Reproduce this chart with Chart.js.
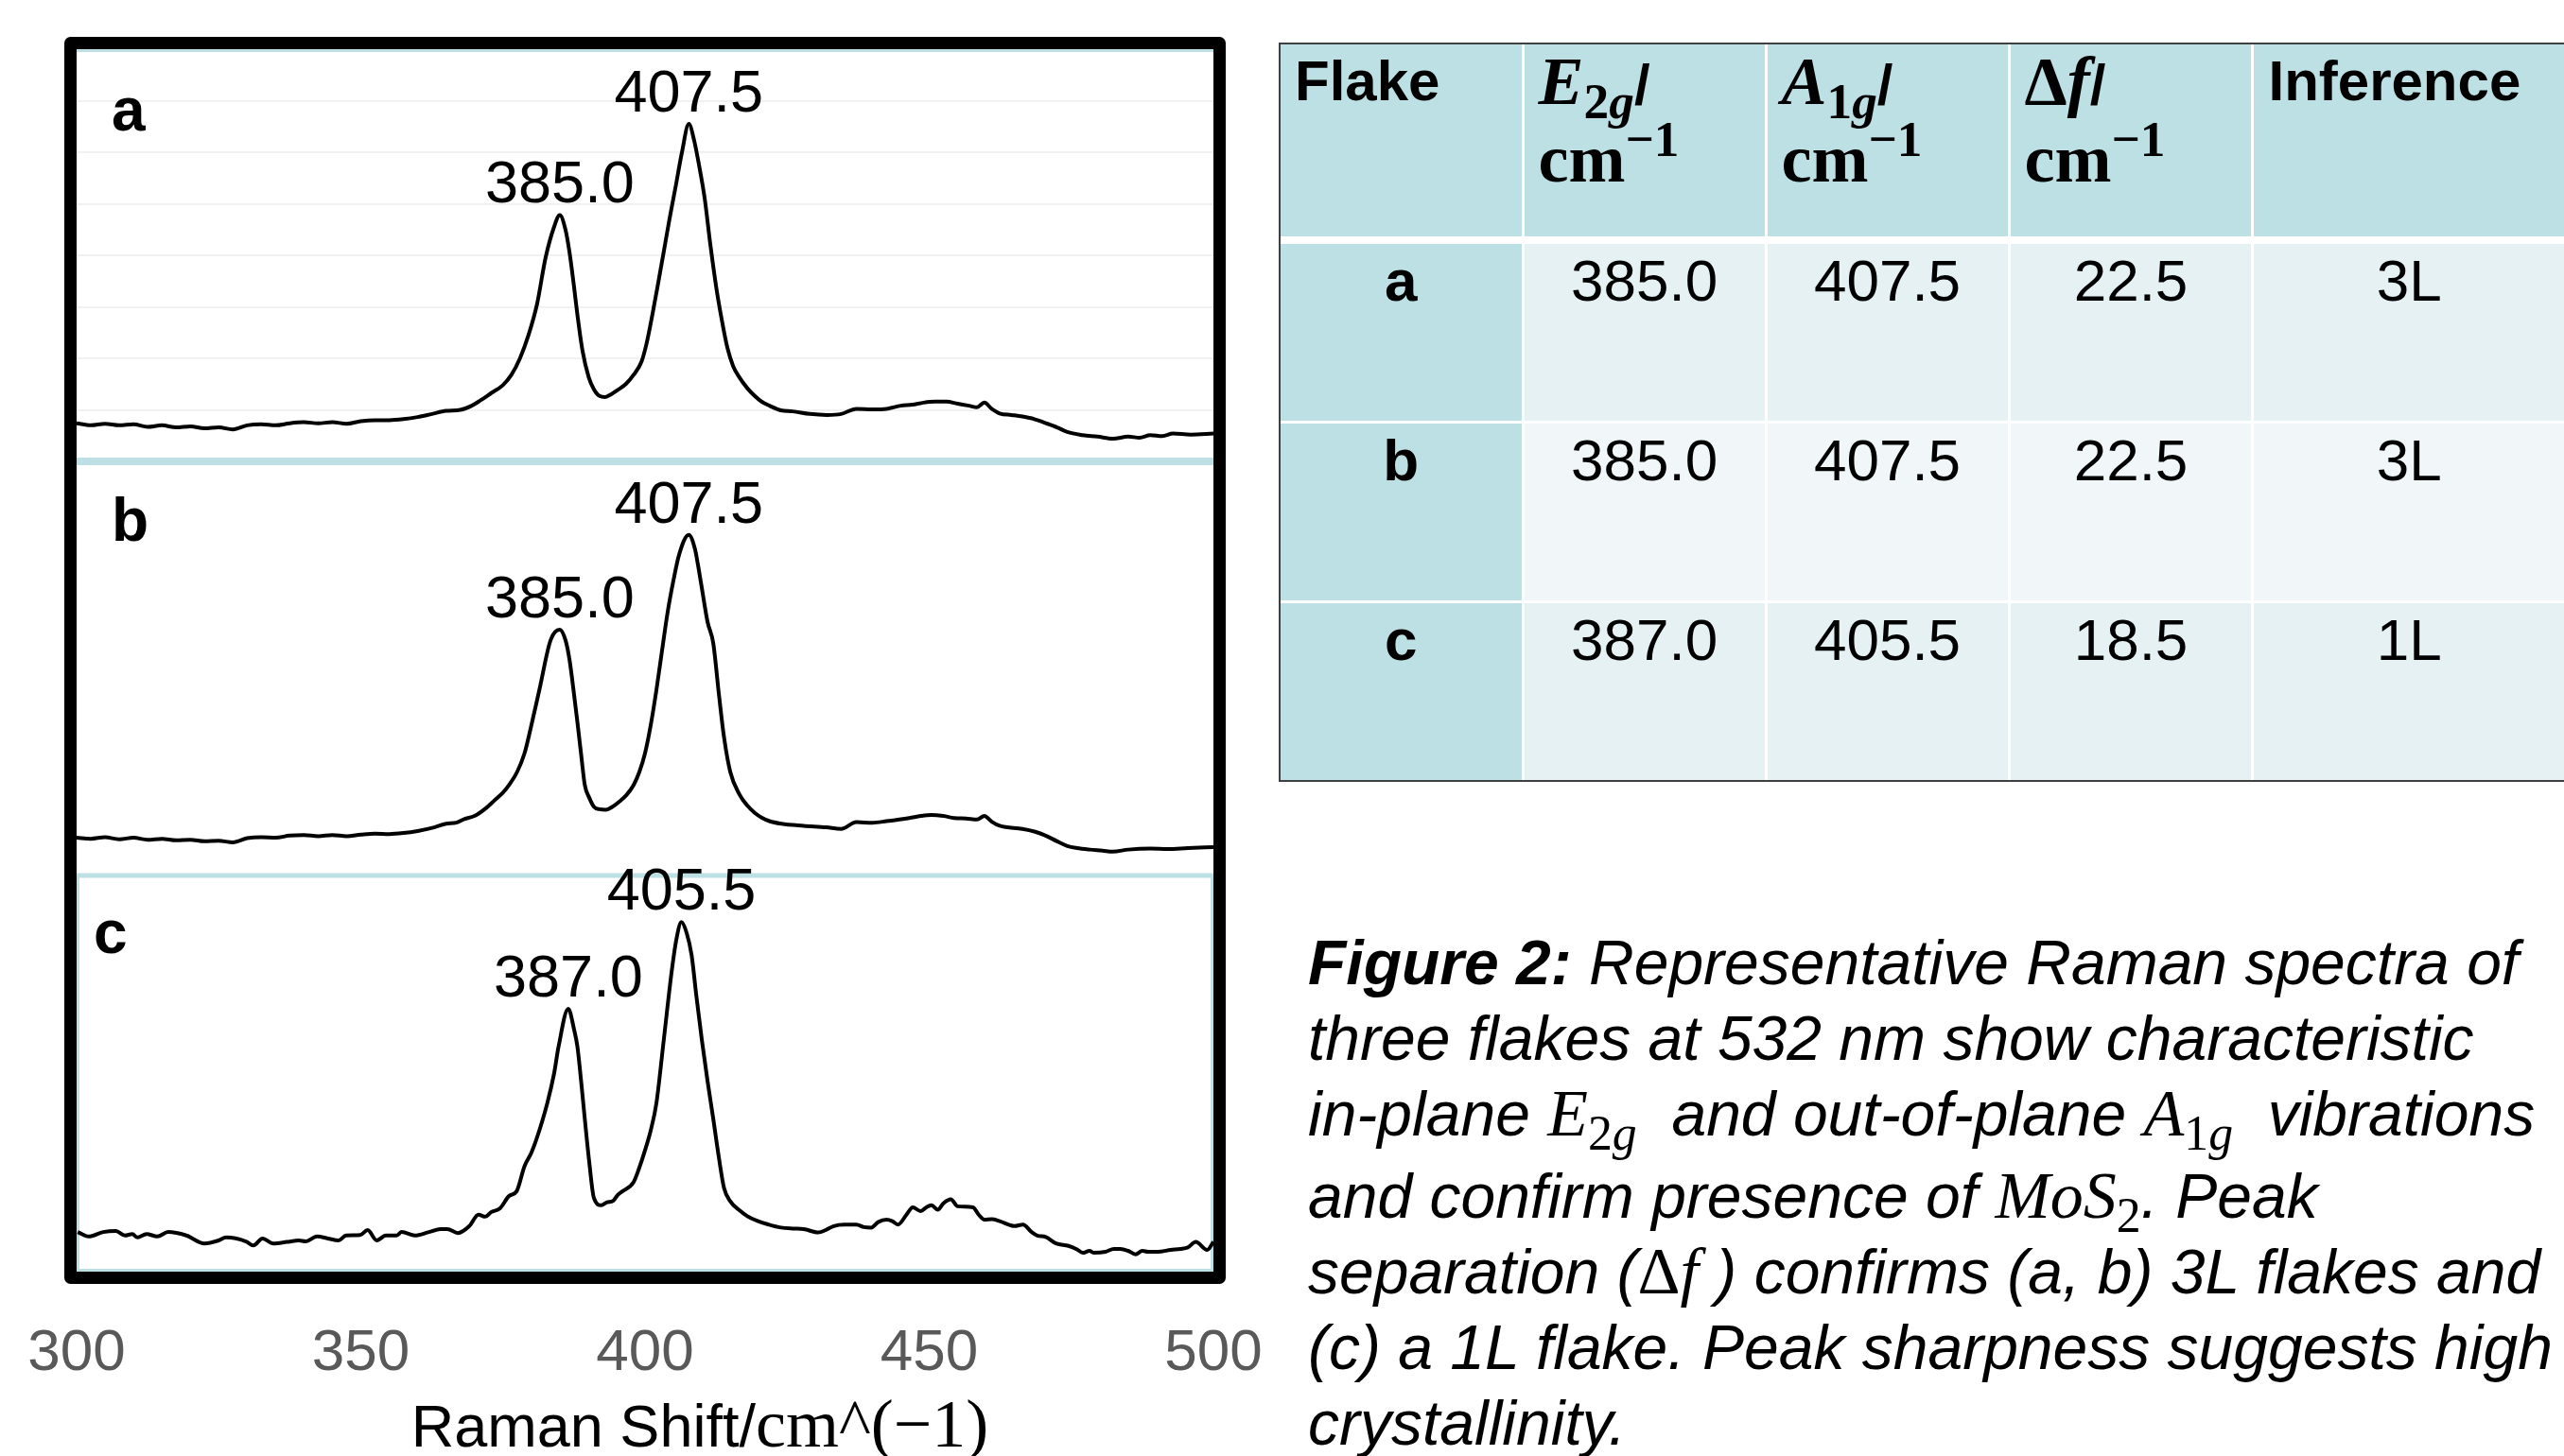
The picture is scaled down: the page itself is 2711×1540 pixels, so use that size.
<!DOCTYPE html>
<html>
<head>
<meta charset="utf-8">
<script src="https://cdn.jsdelivr.net/npm/chart.js@4.4.1/dist/chart.umd.min.js"></script>
<style>
  html, body { margin: 0; padding: 0; background: #fff; width: 2711px; height: 1540px; overflow: hidden; }
  #grafico { position: absolute; left: 0; top: 0; }
  #tabela-box { position: absolute; left: 1352px; top: 45px; border: 2px solid #404040; border-right: none; }
  table { border-collapse: collapse; border-style: hidden; table-layout: fixed; font-family: 'Liberation Sans', Arial, sans-serif; font-size: 62px; color: #000; }
  td { border: 3px solid #fff; padding: 0; vertical-align: top; line-height: 78px; }
  tr.cab td { background: #bde0e4; height: 203px; padding-left: 15px; font-size: 60px; font-weight: bold; border-bottom: 8px solid #fff; }
  td.flake { background: #bde0e4; font-weight: bold; text-align: center; }
  tr.r1 td, tr.r3 td { background: #e6f1f3; }
  tr.r2 td { background: #f1f7f8; }
  tr.r1 td.flake, tr.r2 td.flake, tr.r3 td.flake { background: #bde0e4; }
  tr.corpo td { height: 187px; text-align: center; padding-top: 0; }
  .m { font-family: 'Liberation Serif', serif; font-weight: bold; font-size: 72px; }
  .m i { font-style: italic; }
  sub, sup { font-size: 0.74em; line-height: 0; }
  sub { vertical-align: -0.28em; }
  sup { vertical-align: 0.5em; }
  #legenda { position: absolute; left: 1383px; top: 978px; font-family: 'Liberation Sans', Arial, sans-serif; font-style: italic; font-size: 66px; line-height: 80px; white-space: nowrap; color: #000; }
  #legenda .alto { margin-bottom: 7px; }
  #legenda .mt { font-family: 'Liberation Serif', serif; font-style: normal; font-size: 70px; }
  #legenda .mt i { font-style: italic; }
</style>
</head>
<body>
<canvas id="grafico" width="1340" height="1540"></canvas>

<div id="tabela-box">
<table>
  <colgroup><col style="width:258px"><col style="width:259px"><col style="width:259px"><col style="width:260px"><col style="width:330px"></colgroup>
  <tr class="cab">
    <td>Flake</td>
    <td><span class="m"><i>E</i><sub>2<i>g</i></sub></span>/<br><span class="m">cm<sup>−1</sup></span></td>
    <td><span class="m"><i>A</i><sub>1<i>g</i></sub></span>/<br><span class="m">cm<sup>−1</sup></span></td>
    <td><span class="m">Δ<i>f</i></span>/<br><span class="m">cm<sup>−1</sup></span></td>
    <td>Inference</td>
  </tr>
  <tr class="corpo r1"><td class="flake">a</td><td>385.0</td><td>407.5</td><td>22.5</td><td>3L</td></tr>
  <tr class="corpo r2"><td class="flake">b</td><td>385.0</td><td>407.5</td><td>22.5</td><td>3L</td></tr>
  <tr class="corpo r3"><td class="flake">c</td><td>387.0</td><td>405.5</td><td>18.5</td><td>1L</td></tr>
</table>
</div>

<div id="legenda">
  <div><b>Figure 2:</b> Representative Raman spectra of</div>
  <div>three flakes at 532 nm show characteristic</div>
  <div class="alto">in-plane <span class="mt"><i>E</i><sub>2<i>g</i></sub></span>&nbsp; and out-of-plane <span class="mt"><i>A</i><sub>1<i>g</i></sub></span>&nbsp; vibrations</div>
  <div>and confirm presence of <span class="mt"><i>MoS</i><sub>2</sub></span>. Peak</div>
  <div>separation (<span class="mt">Δ<i>f</i></span> ) confirms (a, b) 3L flakes and</div>
  <div>(c) a 1L flake. Peak sharpness suggests high</div>
  <div>crystallinity.</div>
</div>

<script>
// Raman shift axis (cm^-1)
const xTicks = [300, 350, 400, 450, 500];
const panelLetters = ['a', 'b', 'c'];

// Flake a
const shiftA = [300.0, 302.5, 305.0, 307.5, 310.0, 312.5, 315.0, 317.5, 320.0, 322.5, 325.0, 327.5, 330.0, 332.5, 335.0, 337.5, 340.0, 342.5, 345.0, 347.5,
  350.0, 352.5, 355.0, 357.5, 360.0, 362.5, 365.0, 367.5, 369.5, 371.0, 373.0, 375.0, 376.5, 378.0, 379.5, 381.0, 382.5, 384.0, 385.0, 386.0,
  386.7, 387.5, 388.1, 389.0, 390.1, 391.0, 392.0, 393.0, 394.0, 395.4, 396.7, 398.0, 399.4, 400.3, 401.3, 402.3, 403.3, 404.3, 405.3, 406.5,
  407.7, 408.7, 409.5, 410.5, 411.5, 412.5, 413.5, 414.5, 415.5, 416.6, 418.0, 419.3, 420.5, 421.9, 423.9, 426.0, 429.0, 432.0, 434.5, 437.2,
  440.0, 442.5, 445.0, 447.0, 449.0, 451.0, 453.0, 455.0, 457.0, 458.4, 459.7, 461.0, 462.4, 464.5, 466.4, 468.5, 470.3, 472.5, 474.3, 477.0,
  479.6, 482.3, 485.0, 487.0, 488.9, 491.0, 492.9, 496.0, 500.0];
const intensA = [0.74, 0.70, 0.73, 0.70, 0.72, 0.67, 0.70, 0.66, 0.68, 0.64, 0.66, 0.62, 0.70, 0.72, 0.70, 0.74, 0.76, 0.74, 0.76, 0.73,
  0.78, 0.80, 0.80, 0.82, 0.86, 0.92, 0.98, 1.00, 1.08, 1.18, 1.33, 1.48, 1.68, 2.00, 2.45, 3.05, 3.95, 4.55, 4.78, 4.50,
  4.07, 3.40, 2.85, 2.15, 1.63, 1.40, 1.27, 1.25, 1.30, 1.40, 1.51, 1.68, 1.94, 2.30, 2.85, 3.45, 4.07, 4.70, 5.28, 6.00,
  6.55, 6.20, 5.75, 5.10, 4.20, 3.40, 2.75, 2.20, 1.85, 1.63, 1.42, 1.27, 1.16, 1.08, 0.99, 0.97, 0.92, 0.90, 0.92, 1.02,
  1.01, 1.02, 1.08, 1.10, 1.14, 1.16, 1.16, 1.12, 1.08, 1.05, 1.14, 1.02, 0.93, 0.90, 0.87, 0.82, 0.75, 0.66, 0.57, 0.51,
  0.48, 0.44, 0.48, 0.46, 0.51, 0.49, 0.54, 0.52, 0.54];

// Flake b
const shiftB = [300.0, 302.5, 305.0, 307.5, 310.0, 312.5, 315.0, 317.5, 320.0, 322.5, 325.0, 327.5, 330.0, 332.5, 335.0, 337.5, 340.0, 342.5, 345.0, 347.5,
  350.0, 352.5, 355.0, 357.5, 360.0, 362.9, 365.0, 366.8, 368.2, 370.0, 372.0, 373.5, 375.0, 376.1, 377.5, 378.8, 380.0, 381.4, 383.4, 385.0,
  386.0, 386.7, 387.4, 388.1, 388.8, 389.4, 390.2, 391.0, 392.0, 393.1, 394.3, 395.4, 396.7, 398.0, 399.0, 400.0, 401.0, 402.0, 403.0, 404.0,
  405.0, 406.0, 407.7, 408.8, 409.3, 410.0, 411.0, 412.0, 413.0, 413.9, 415.0, 416.6, 418.0, 419.3, 420.5, 421.9, 424.0, 427.9, 431.9, 434.5,
  437.2, 440.0, 442.5, 446.5, 448.5, 450.4, 452.5, 454.4, 456.5, 458.4, 459.7, 461.0, 462.4, 466.4, 468.5, 470.3, 472.5, 474.3, 476.0, 478.3,
  480.5, 482.3, 485.0, 488.9, 492.0, 495.5, 500.0];
const intensB = [0.73, 0.71, 0.74, 0.70, 0.73, 0.69, 0.71, 0.68, 0.69, 0.66, 0.67, 0.64, 0.72, 0.74, 0.73, 0.77, 0.78, 0.76, 0.78, 0.76,
  0.79, 0.81, 0.80, 0.82, 0.86, 0.93, 1.00, 1.02, 1.09, 1.15, 1.30, 1.45, 1.60, 1.75, 2.00, 2.36, 2.90, 3.58, 4.55, 4.75,
  4.55, 4.18, 3.60, 2.97, 2.30, 1.75, 1.50, 1.33, 1.28, 1.27, 1.33, 1.42, 1.55, 1.75, 2.00, 2.36, 2.90, 3.58, 4.35, 5.10,
  5.70, 6.20, 6.58, 6.30, 6.01, 5.55, 4.90, 4.49, 3.50, 2.67, 2.00, 1.57, 1.35, 1.21, 1.12, 1.05, 1.00, 0.96, 0.93, 0.90,
  1.03, 1.02, 1.05, 1.11, 1.15, 1.17, 1.15, 1.11, 1.10, 1.08, 1.15, 1.04, 0.96, 0.90, 0.85, 0.78, 0.66, 0.57, 0.53, 0.50,
  0.48, 0.46, 0.50, 0.52, 0.51, 0.53, 0.55];

// Flake c
const shiftC = [300.2, 302.1, 304.7, 306.9, 308.5, 309.8, 310.7, 312.3, 314.2, 316.1, 319.3, 322.5, 325.0, 326.3, 329.8, 331.1, 332.7, 334.6, 337.0, 339.1,
  340.3, 342.3, 344.2, 346.1, 347.4, 349.9, 351.2, 352.8, 354.4, 356.3, 357.2, 359.5, 362.0, 364.0, 365.2, 367.1, 369.1, 370.7, 371.9, 372.9,
  374.5, 376.1, 377.4, 378.8, 380.0, 380.8, 382.8, 384.0, 384.8, 386.5, 387.5, 388.1, 388.8, 389.4, 390.2, 391.0, 392.3, 393.3, 394.4, 395.2,
  396.0, 398.0, 399.0, 400.0, 401.0, 402.0, 403.3, 404.7, 405.5, 406.4, 407.3, 408.2, 409.0, 410.0, 411.0, 412.0, 413.0, 413.9, 415.0, 416.6,
  418.0, 419.9, 421.5, 423.9, 426.0, 427.9, 430.5, 431.8, 433.2, 435.0, 437.2, 438.5, 439.8, 441.0, 442.5, 443.5, 444.5, 446.0, 447.1, 448.5,
  449.5, 450.4, 451.5, 452.5, 453.8, 455.0, 457.7, 458.7, 459.7, 461.0, 462.4, 465.0, 466.5, 468.0, 469.0, 470.5, 472.3, 474.5, 476.0, 477.0,
  478.2, 479.0, 481.0, 482.5, 483.6, 485.0, 486.3, 487.5, 488.5, 490.2, 492.5, 494.2, 495.5, 496.9, 498.9, 500.0];
const intensC = [0.80, 0.71, 0.80, 0.82, 0.73, 0.76, 0.69, 0.76, 0.71, 0.80, 0.73, 0.57, 0.63, 0.69, 0.61, 0.53, 0.67, 0.57, 0.60, 0.63,
  0.61, 0.71, 0.67, 0.63, 0.73, 0.74, 0.84, 0.63, 0.73, 0.73, 0.80, 0.73, 0.80, 0.86, 0.86, 0.78, 0.92, 1.15, 1.11, 1.20,
  1.28, 1.53, 1.62, 2.13, 2.40, 2.64, 3.40, 4.00, 4.55, 5.31, 4.90, 4.55, 3.80, 3.09, 2.20, 1.49, 1.34, 1.40, 1.43, 1.55,
  1.62, 1.81, 2.10, 2.45, 2.85, 3.40, 4.68, 6.07, 6.70, 7.06, 6.85, 6.39, 5.60, 4.68, 3.85, 3.09, 2.30, 1.69, 1.42, 1.24,
  1.12, 1.02, 0.96, 0.89, 0.87, 0.86, 0.79, 0.84, 0.92, 0.95, 0.95, 0.90, 0.89, 1.00, 1.05, 1.02, 0.95, 1.15, 1.30, 1.22,
  1.30, 1.34, 1.25, 1.38, 1.46, 1.32, 1.30, 1.15, 1.05, 1.06, 1.02, 0.92, 0.95, 0.80, 0.73, 0.70, 0.57, 0.52, 0.45, 0.38,
  0.42, 0.38, 0.40, 0.46, 0.46, 0.42, 0.35, 0.42, 0.40, 0.40, 0.44, 0.46, 0.49, 0.60, 0.44, 0.60];

// Reported peak positions (E2g, A1g) for each flake
const peaksA = [385.0, 407.5];
const peaksB = [385.0, 407.5];
const peaksC = [387.0, 405.5];

const spectra = [
  { shift: shiftA, intens: intensA, peaks: peaksA, axis: 'ya' },
  { shift: shiftB, intens: intensB, peaks: peaksB, axis: 'yb' },
  { shift: shiftC, intens: intensC, peaks: peaksC, axis: 'yc' }
];

const TEAL = '#bde0e4';

// Highest point of a spectrum close to a reported peak
function apexNear(sp, pos) {
  let best = null;
  sp.shift.forEach((x, i) => {
    if (Math.abs(x - pos) <= 3 && (!best || sp.intens[i] > best.y)) {
      best = { x: x, y: sp.intens[i] };
    }
  });
  return best;
}

function hLine(ctx, x1, x2, y, w) {
  ctx.lineWidth = w;
  ctx.beginPath();
  ctx.moveTo(x1, y);
  ctx.lineTo(x2, y);
  ctx.stroke();
}

const panelDecor = {
  id: 'panelDecor',
  beforeDatasetsDraw(chart) {
    const { ctx, chartArea } = chart;
    const { ya, yb, yc } = chart.scales;
    ctx.save();
    ctx.strokeStyle = TEAL;
    hLine(ctx, chartArea.left, chartArea.right, ya.top + 1.5, 3);
    hLine(ctx, chartArea.left, chartArea.right, ya.bottom, 8);
    hLine(ctx, chartArea.left, chartArea.right, yb.bottom, 5);
    ctx.lineWidth = 3;
    ctx.strokeRect(chartArea.left + 1.5, yc.top, chartArea.right - chartArea.left - 3, yc.bottom - yc.top - 1.5);
    ctx.restore();
  },
  afterDraw(chart) {
    const { ctx, chartArea } = chart;
    const x = chart.scales.x;
    ctx.save();

    // black frame round the three panels
    ctx.strokeStyle = '#000';
    ctx.lineWidth = 13;
    ctx.lineJoin = 'round';
    ctx.strokeRect(chartArea.left - 6.5, chartArea.top - 6.5,
      chartArea.right - chartArea.left + 13, chartArea.bottom - chartArea.top + 13);

    // panel letters
    const letterInset = [37, 37, 18];
    const letterDrop = [86, 84, 82];
    ctx.fillStyle = '#000';
    ctx.textAlign = 'left';
    ctx.textBaseline = 'alphabetic';
    ctx.font = 'bold 64px "Liberation Sans"';
    spectra.forEach((sp, i) => {
      const s = chart.scales[sp.axis];
      ctx.fillText(panelLetters[i], chartArea.left + letterInset[i], s.top + letterDrop[i]);
    });

    // peak labels above each apex
    ctx.font = '63px "Liberation Sans"';
    ctx.textAlign = 'center';
    spectra.forEach(sp => {
      const s = chart.scales[sp.axis];
      sp.peaks.forEach(p => {
        const apex = apexNear(sp, p);
        ctx.fillText(p.toFixed(1), x.getPixelForValue(apex.x), s.getPixelForValue(apex.y) - 13);
      });
    });

    // axis title: sans part + serif math part
    const t1 = 'Raman Shift/';
    const t2 = 'cm^(\u22121)';
    ctx.textAlign = 'left';
    ctx.font = '63px "Liberation Sans"';
    const w1 = ctx.measureText(t1).width;
    ctx.font = '72px "Liberation Serif"';
    const w2 = ctx.measureText(t2).width;
    const cx = (chartArea.left + chartArea.right) / 2 + 58;
    const base = chart.height - 10;
    const x0 = cx - (w1 + w2) / 2;
    ctx.font = '63px "Liberation Sans"';
    ctx.fillText(t1, x0, base);
    ctx.font = '72px "Liberation Serif"';
    ctx.fillText(t2, x0 + w1, base);
    ctx.restore();
  }
};

function toPoints(xs, ys) {
  return xs.map((v, i) => ({ x: v, y: ys[i] }));
}

function panelAxis(weight, stackWeight, showGrid) {
  return {
    type: 'linear',
    position: 'left',
    stack: 'spectra',
    stackWeight: stackWeight,
    weight: weight,
    min: 0,
    max: 8,
    ticks: { display: false, stepSize: 1 },
    grid: { display: showGrid, color: '#f1f1f1', lineWidth: 2, drawTicks: false },
    border: { display: false }
  };
}

const ctx = document.getElementById('grafico').getContext('2d');
const grafico = new Chart(ctx, {
  type: 'line',
  data: {
    datasets: spectra.map(sp => ({
      data: toPoints(sp.shift, sp.intens),
      yAxisID: sp.axis,
      borderColor: '#000',
      borderWidth: 4,
      pointRadius: 0,
      fill: false,
      cubicInterpolationMode: 'monotone'
    }))
  },
  options: {
    responsive: false,
    animation: false,
    devicePixelRatio: 1,
    layout: { padding: { left: 81, right: 57, top: 52, bottom: 0 } },
    plugins: { legend: { display: false }, tooltip: { enabled: false } },
    scales: {
      x: {
        type: 'linear',
        position: 'bottom',
        min: 300,
        max: 500,
        afterBuildTicks: s => { s.ticks = xTicks.map(v => ({ value: v })); },
        afterFit: s => { s.height = 195; },
        // invisible tick marks only push the labels below the frame
        grid: { display: false, drawTicks: true, tickLength: 50, color: 'rgba(0,0,0,0)' },
        border: { display: false },
        ticks: { color: '#595959', font: { family: 'Liberation Sans', size: 62 }, padding: 0, maxRotation: 0, autoSkip: false }
      },
      ya: panelAxis(3, 436, true),
      yb: panelAxis(2, 438, false),
      yc: panelAxis(1, 419, false)
    }
  },
  plugins: [panelDecor]
});
</script>
</body>
</html>
